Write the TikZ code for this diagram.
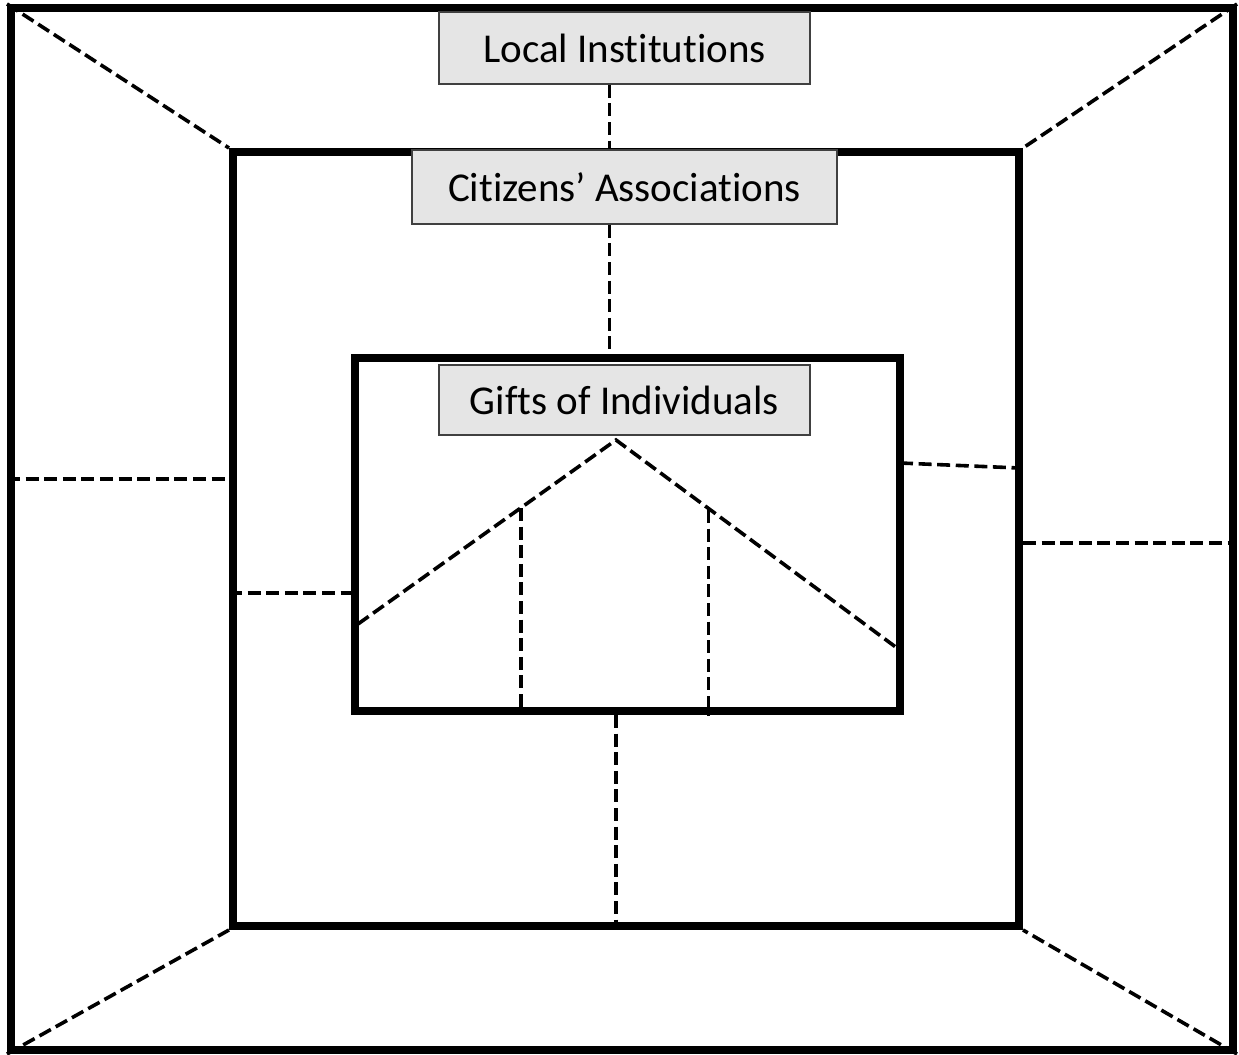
\documentclass[tikz,border=0pt]{standalone}
\usepackage{fontspec}
\setmainfont{Carlito}[Ligatures=NoCommon]
\begin{document}
\begin{tikzpicture}[x=0.5pt,y=-0.5pt,
  frame/.style={draw, line width=4pt, inner sep=0pt, rectangle},
  lbl/.style={draw=black!75, line width=0.8pt, fill=black!10, inner sep=0pt, rectangle,
    font=\fontsize{20.5}{24}\selectfont},
  dsh/.style={line width=1.8pt, dash pattern=on 6.5pt off 2.8pt}]
\useasboundingbox (0,0) rectangle (1239,1055);
% frames
\node[frame, minimum width=611pt, minimum height=521pt] (outer) at (622,529) {};
\node[frame, minimum width=393pt, minimum height=387pt] (mid) at (626,539) {};
\node[frame, minimum width=272.5pt, minimum height=176.5pt] (inner) at (627.5,534.5) {};
% helper coordinates
\coordinate (vx) at (609.5,0);
\coordinate (bx) at (616,0);
\coordinate (ly) at (0,479);
\coordinate (my) at (0,593);
\coordinate (ry) at (0,543);
\coordinate (peak) at (616,440);
\coordinate (lend) at (358,624);
\coordinate (rend) at (897,648);
\coordinate (v1) at (521,508);
\coordinate (v2) at (708.5,510);
\coordinate (ri) at (900,463);
\coordinate (rm) at (1019,468);
% corner connectors
\draw[dsh] (outer.north west) -- (mid.north west);
\draw[dsh] (outer.north east) -- (mid.north east);
\draw[dsh] (outer.south west) -- (mid.south west);
\draw[dsh] (outer.south east) -- (mid.south east);
% side connectors
\draw[dsh] (outer.west |- ly) -- (mid.west |- ly);
\draw[dsh] (mid.west |- my) -- (inner.west |- my);
\draw[dsh] (ri) -- (rm);
\draw[dsh] (mid.east |- ry) -- (outer.east |- ry);
\draw[dsh] (bx |- inner.south) -- (bx |- mid.south);
% labels
\node[lbl, minimum width=185.5pt, minimum height=36pt] (loc) at (624.5,48) {Local Institutions};
\node[lbl, minimum width=212.5pt, minimum height=37pt] (cit) at (624.5,187) {Citizens’ Associations};
\node[lbl, minimum width=185.5pt, minimum height=35pt] (gift) at (624.5,400) {Gifts of Individuals};
\draw[dsh] (vx |- loc.south) -- (vx |- cit.north);
\draw[dsh] (vx |- cit.south) -- (vx |- inner.north);
% inner roof
\draw[dsh] (lend) -- (peak) -- (rend);
\draw[dsh] (v1) -- (v1 |- inner.south);
\draw[dsh] (v2) -- (v2 |- inner.south);
\end{tikzpicture}
\end{document}
